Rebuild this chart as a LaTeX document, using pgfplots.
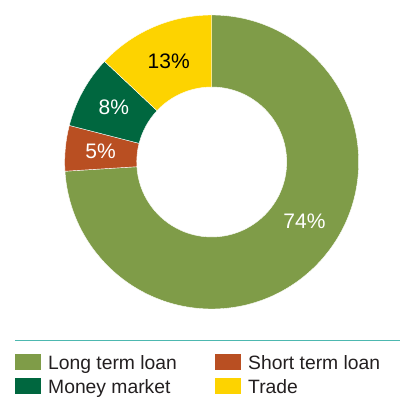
\documentclass[border=0pt]{standalone}
\usepackage{fontspec}
\setmainfont{Liberation Sans}
\usepackage{pgfplots}
\pgfplotsset{compat=1.18}
\definecolor{cLong}{HTML}{7F9C48}
\definecolor{cShort}{HTML}{B94F22}
\definecolor{cMoney}{HTML}{00673F}
\definecolor{cTrade}{HTML}{FDD300}
\definecolor{cLine}{HTML}{4DB8B0}
\definecolor{cText}{HTML}{231F20}

\newcommand\cx{211.7}
\newcommand\cy{237}
\newcommand\Ro{147}
\newcommand\Ri{75}
\def\cum{0}
% #1 = share in percent, #2 = colour
\newcommand\slice[2]{%
  \pgfmathsetmacro\aS{90-3.6*\cum}%
  \pgfmathsetmacro\aE{90-3.6*(\cum+#1)}%
  \pgfmathsetmacro\xA{\cx+\Ro*cos(\aS)}%
  \pgfmathsetmacro\yA{\cy+\Ro*sin(\aS)}%
  \pgfmathsetmacro\xB{\cx+\Ri*cos(\aE)}%
  \pgfmathsetmacro\yB{\cy+\Ri*sin(\aE)}%
  \edef\temp{\noexpand\fill[#2,draw=white,line width=0.4pt] (axis cs:\xA,\yA) arc[start angle=\aS,end angle=\aE,radius=\Ro pt] -- (axis cs:\xB,\yB) arc[start angle=\aE,end angle=\aS,radius=\Ri pt] -- cycle;}%
  \temp
  \pgfmathsetmacro\cum{\cum+#1}%
}

\begin{document}
\begin{tikzpicture}
\begin{axis}[
  hide axis, scale only axis,
  width=400pt, height=399pt,
  xmin=0, xmax=400, ymin=0, ymax=399,
  enlargelimits=false, disabledatascaling, clip=false,
]
\addplot[draw=none] coordinates {(0,0) (400,399)};
% data: Long term loan 74, Short term loan 5, Money market 8, Trade 13
\slice{74}{cLong}
\slice{5}{cShort}
\slice{8}{cMoney}
\slice{13}{cTrade}

\node[font=\fontsize{21}{25}\selectfont, text=white, inner sep=0] at (axis cs:304.5,178.2) {74\%};
\node[font=\fontsize{21}{25}\selectfont, text=white, inner sep=0] at (axis cs:100.5,247.5) {5\%};
\node[font=\fontsize{21}{25}\selectfont, text=white, inner sep=0] at (axis cs:113.8,291.3) {8\%};
\node[font=\fontsize{21}{25}\selectfont, text=black, inner sep=0] at (axis cs:168.7,337.7) {13\%};

% legend
\draw[cLine, line width=1.5pt] (axis cs:15,58.3) -- (axis cs:400,58.3);
\fill[cLong]  (axis cs:15,29) rectangle (axis cs:40.7,45);
\fill[cShort] (axis cs:215,29) rectangle (axis cs:240.7,45);
\fill[cMoney] (axis cs:15,4.6) rectangle (axis cs:40.7,20.6);
\fill[cTrade] (axis cs:215,4.6) rectangle (axis cs:240.7,20.6);
\node[anchor=base west, inner sep=0, text=cText, font=\fontsize{19.3}{23}\selectfont] at (axis cs:48,29.7) {Long term loan};
\node[anchor=base west, inner sep=0, text=cText, font=\fontsize{19.3}{23}\selectfont] at (axis cs:248,29.7) {Short term loan};
\node[anchor=base west, inner sep=0, text=cText, font=\fontsize{19.3}{23}\selectfont] at (axis cs:48,5.3) {Money market};
\node[anchor=base west, inner sep=0, text=cText, font=\fontsize{19.3}{23}\selectfont] at (axis cs:248,5.3) {Trade};
\end{axis}
\pgfresetboundingbox
\path[use as bounding box] (0,0) rectangle (400pt,399pt);
\end{tikzpicture}
\end{document}
